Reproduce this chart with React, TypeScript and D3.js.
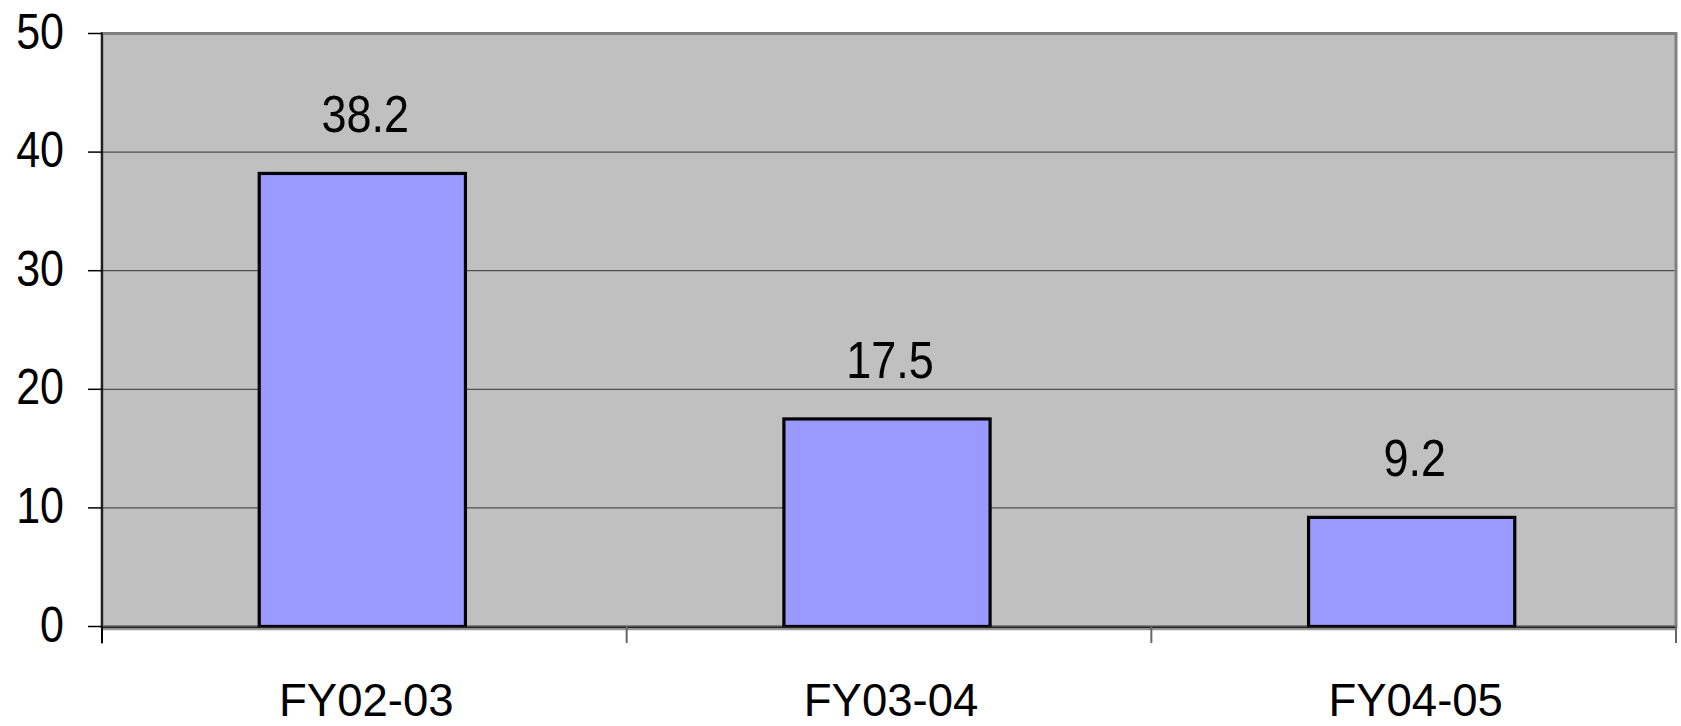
import React from "react";
import * as d3 from "d3";

const categories = ["FY02-03", "FY03-04", "FY04-05"];
const values = [38.2, 17.5, 9.2];
const valueLabels = ["38.2", "17.5", "9.2"];
const yTicks = [0, 10, 20, 30, 40, 50];

const W = 1681;
const H = 726;
const left = 102;
const right = 1676;
const top = 33.5;
const bottom = 626.5;
const FONT = "'Liberation Sans', Arial, sans-serif";

export default function App() {
  const y = d3.scaleLinear().domain([0, 50]).range([bottom, top]);
  const x = d3.scaleBand<string>().domain(categories).range([left, right]).padding(0);
  const bw = x.bandwidth() * 0.393;

  return (
    <svg width={W} height={H} style={{ position: "absolute", left: 0, top: 0, background: "#fff" }}>
      {/* plot background */}
      <rect x={left} y={top} width={right - left} height={bottom - top} fill="#C0C0C0" stroke="#808080" strokeWidth={3} />
      {/* gridlines */}
      {yTicks.filter((t) => t > 0 && t < 50).map((t) => (
        <line key={t} x1={left} x2={right - 1.5} y1={y(t)} y2={y(t)} stroke="#333" strokeWidth={1} />
      ))}
      {/* bars */}
      {categories.map((c, i) => {
        const cx = (x(c) as number) + x.bandwidth() / 2 - 2;
        return (
          <rect key={c} x={cx - bw / 2} y={y(values[i])} width={bw} height={bottom - y(values[i])} fill="#9999FF" stroke="#000" strokeWidth={3.2} />
        );
      })}
      {/* left axis */}
      <line x1={left} x2={left} y1={top - 1} y2={bottom + 17} stroke="#000" strokeWidth={1.5} />
      {yTicks.map((t) => (
        <g key={t}>
          <line x1={88} x2={left} y1={y(t)} y2={y(t)} stroke="#000" strokeWidth={1.5} />
          <text
            transform={`translate(64, ${y(t) + 15}) scale(1, 1.17)`}
            textAnchor="end"
            fontFamily={FONT}
            fontSize={43}
            fill="#000"
          >
            {t}
          </text>
        </g>
      ))}
      {/* bottom axis */}
      <line x1={left} x2={right} y1={bottom + 1} y2={bottom + 1} stroke="#222" strokeWidth={2} />
      <line x1={left} x2={right} y1={bottom + 3} y2={bottom + 3} stroke="#999" strokeWidth={1.5} />
      {[...categories.map((c) => x(c) as number), right].map((xx, i) => (
        <line key={i} x1={xx} x2={xx} y1={bottom} y2={643} stroke={i === 0 ? "#000" : "#666"} strokeWidth={2} />
      ))}
      {/* category labels */}
      {categories.map((c) => (
        <text key={c} x={(x(c) as number) + x.bandwidth() / 2 + 2} y={716} textAnchor="middle" fontFamily={FONT} fontSize={45.5} fill="#000">
          {c}
        </text>
      ))}
      {/* value labels */}
      {categories.map((c, i) => (
        <text
          key={c}
          transform={`translate(${(x(c) as number) + x.bandwidth() / 2 + 1}, ${y(values[i]) - 41}) scale(1, 1.14)`}
          textAnchor="middle"
          fontFamily={FONT}
          fontSize={45}
          fill="#000"
        >
          {valueLabels[i]}
        </text>
      ))}
    </svg>
  );
}
